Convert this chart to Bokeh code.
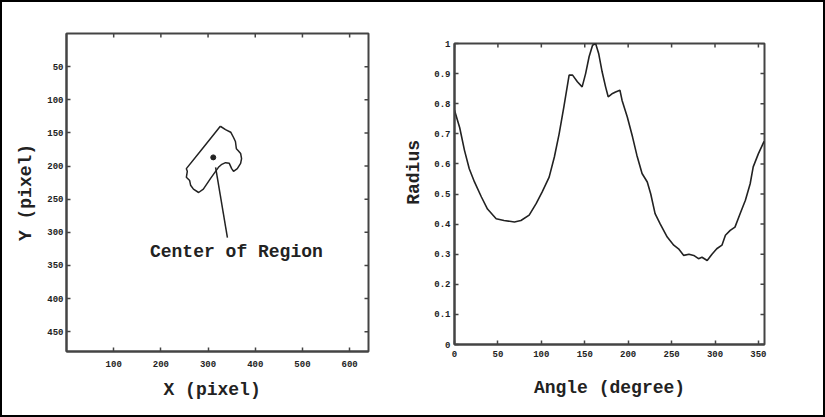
import math
from bokeh.plotting import figure
from bokeh.layouts import row, column
from bokeh.models import Range1d, FixedTicker, Spacer
from bokeh.core.properties import value
from bokeh.embed import file_html
from bokeh.resources import INLINE

# ---------------- data ----------------
# left panel: region outline in image pixel coordinates (640 x 480 image)
region_x = [326, 337, 348, 354, 358, 360, 364, 369, 371, 369, 362, 354, 350, 345, 337,
            328, 322, 305, 290, 280, 269, 263, 261, 254, 256, 254, 290, 326]
region_y = [140, 145, 149, 157, 163, 174, 177, 181, 189, 196, 204, 208, 204, 196, 195,
            198, 202, 219, 235, 240, 235, 229, 222, 217, 208, 204, 172, 140]
center_x = [311]
center_y = [187]
pointer_x = [316, 341]
pointer_y = [202, 308]
x_ticks_left = [100, 200, 300, 400, 500, 600]
y_ticks_left = [50, 100, 150, 200, 250, 300, 350, 400, 450]

# right panel: radius vs angle
angle = [0, 6, 11.5, 17, 23, 31, 38, 48, 57, 69, 76.5, 86, 94, 101, 109, 115, 120.5,
         126, 132, 136, 141.5, 147, 151, 155, 159, 162.5, 166, 170, 174, 177, 182,
         185.5, 190.5, 193, 199, 205, 210, 216, 222, 226, 231, 237, 245, 252.5, 258,
         264, 270, 275.5, 281, 285, 291, 296.5, 302, 308, 312, 317.5, 323, 329, 335,
         340.5, 344, 350, 356.5]
radius = [0.778, 0.72, 0.645, 0.584, 0.54, 0.49, 0.45, 0.418, 0.412, 0.407, 0.412,
          0.43, 0.468, 0.507, 0.556, 0.623, 0.70, 0.79, 0.895, 0.895, 0.873, 0.856,
          0.90, 0.956, 0.994, 1.0, 0.967, 0.906, 0.856, 0.823, 0.834, 0.839, 0.845,
          0.811, 0.756, 0.69, 0.629, 0.568, 0.54, 0.50, 0.435, 0.40, 0.357, 0.33,
          0.318, 0.296, 0.30, 0.296, 0.285, 0.29, 0.279, 0.30, 0.318, 0.33, 0.363,
          0.379, 0.39, 0.435, 0.479, 0.534, 0.59, 0.634, 0.675]
x_ticks_right = [0, 50, 100, 150, 200, 250, 300, 350]
y_ticks_right = [0, 0.1, 0.2, 0.3, 0.4, 0.5, 0.6, 0.7, 0.8, 0.9, 1]

MONO = "Liberation Mono"
INK = "#222222"
FRAME = "#444444"
NB = "\u00a0"


def style(p, xt, yt):
    p.grid.visible = False
    p.outline_line_color = FRAME
    p.outline_line_width = 2
    p.background_fill_color = "white"
    p.border_fill_color = "white"
    for ax in p.xaxis + p.yaxis:
        ax.major_tick_in = 4
        ax.major_tick_out = 0
        ax.minor_tick_line_color = None
        ax.axis_line_color = FRAME
        ax.axis_line_width = 2
        ax.major_tick_line_color = FRAME
        ax.major_tick_line_width = 1.5
        ax.major_label_text_font = MONO
        ax.major_label_text_font_style = "bold"
        ax.major_label_text_font_size = "9px"
        ax.major_label_text_color = INK
        ax.axis_label_text_font = MONO
        ax.axis_label_text_font_style = "bold"
        ax.axis_label_text_font_size = "18px"
        ax.axis_label_text_color = INK
    p.xaxis.ticker = FixedTicker(ticks=xt)
    p.yaxis.ticker = FixedTicker(ticks=yt)
    # inward tick marks on the top and right edges, at the same tick values
    x0, x1 = p.x_range.start, p.x_range.end
    y0, y1 = p.y_range.start, p.y_range.end
    tx = (x1 - x0) * 4.0 / p.frame_width
    ty = (y1 - y0) * 4.0 / p.frame_height
    p.segment(x0=xt, y0=[y1] * len(xt), x1=xt, y1=[y1 - ty] * len(xt),
              line_color=FRAME, line_width=1.5)
    p.segment(x0=[x1] * len(yt), y0=yt, x1=[x1 - tx] * len(yt), y1=yt,
              line_color=FRAME, line_width=1.5)


# ---------------- left panel ----------------
p1 = figure(frame_width=302, frame_height=318, min_border_left=64, min_border_right=26,
            min_border_top=31, min_border_bottom=64,
            x_range=Range1d(0, 640), y_range=Range1d(480, 0),
            x_axis_label="X (pixel)" + NB, y_axis_label="Y (pixel)",
            output_backend="svg", toolbar_location=None)
style(p1, x_ticks_left, y_ticks_left)
p1.xaxis[0].major_label_standoff = 9
p1.xaxis[0].axis_label_standoff = 10
p1.yaxis[0].major_label_standoff = 3
p1.yaxis[0].axis_label_standoff = 8
p1.yaxis[0].major_label_orientation = "horizontal"

p1.line(region_x, region_y, line_color=INK, line_width=1.5)
p1.line(pointer_x, pointer_y, line_color=INK, line_width=1.5)
p1.scatter(center_x, center_y, size=5, color=INK)
p1.text(x=[360], y=[330], text=["Center of Region"], text_font=value(MONO),
        text_font_style="bold", text_font_size="18px", text_color=INK,
        text_align="center", text_baseline="middle")

# ---------------- right panel ----------------
p2 = figure(frame_width=310, frame_height=301, min_border_left=60, min_border_right=59,
            min_border_top=31, min_border_bottom=71,
            x_range=Range1d(0, 357), y_range=Range1d(0, 1),
            x_axis_label="Angle (degree)", y_axis_label=NB * 4 + "Radius",
            output_backend="svg", toolbar_location=None)
style(p2, x_ticks_right, y_ticks_right)
p2.xaxis[0].major_label_standoff = 6
p2.xaxis[0].axis_label_standoff = 18
p2.yaxis[0].major_label_standoff = 4
p2.yaxis[0].axis_label_standoff = 7
p2.line(angle, radius, line_color=INK, line_width=1.6)

layout = row(p1, column(Spacer(height=10, width=429), p2),
             styles={"border": "2px solid black", "box-sizing": "content-box"})
open("out.html", "w").write(file_html(layout, INLINE))
